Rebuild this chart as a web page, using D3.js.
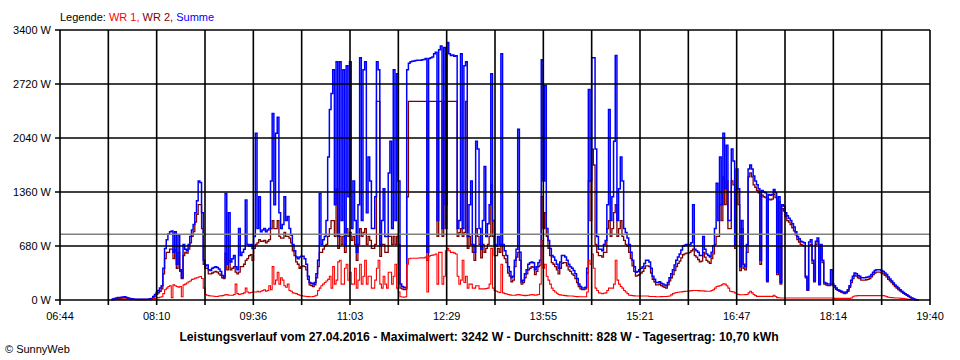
<!DOCTYPE html>
<html><head><meta charset="utf-8">
<script src="https://cdn.jsdelivr.net/npm/d3@7"></script>
<style>
body{margin:0;background:#fff}
svg{display:block}
text{font-family:"Liberation Sans",Arial,sans-serif;font-size:11px}
</style>
</head><body><svg id="c" width="960" height="360"></svg>
<script>
// ---- data ----
const axisStartMin = 404;   // 06:44
const axisEndMin = 1180;    // 19:40
const sampleStartMin = 450; // 07:30
const sampleStepMin = 1.5;
const xTickLabels = ["06:44","08:10","09:36","11:03","12:29","13:55","15:21","16:47","18:14","19:40"];
const yTickValues = [0,680,1360,2040,2720,3400];
const yTickLabels = ["0 W","680 W","1360 W","2040 W","2720 W","3400 W"];
const averageW = 828;
const legendParts = [["Legende: ","#000000"],["WR 1, ","#ff0000"],["WR 2, ","#800000"],["Summe","#0000ff"]];
const titleText = "Leistungsverlauf vom 27.04.2016 - Maximalwert: 3242 W - Durchschnitt: 828 W - Tagesertrag: 10,70 kWh";
const creditText = "\u00a9 SunnyWeb";

const summe = [
5,12,20,25,30,32,35,38,40,32,25,20,15,12,10,10,10,9,8,8,
8,9,10,15,20,45,70,95,120,150,180,400,650,760,830,860,870,600,860,450,
820,380,280,700,640,620,700,800,880,950,1100,1250,1500,1480,1100,500,430,440,380,370,
400,410,420,410,390,360,310,290,1340,450,1100,480,520,560,420,380,900,560,600,640,
1260,700,680,700,650,800,2100,900,1300,860,880,900,860,880,900,1500,2350,1200,2100,2300,
1100,900,950,1300,1000,1050,900,820,700,620,540,520,540,550,550,520,450,300,220,210,
200,220,330,500,1340,700,760,800,1000,1800,2400,2600,2900,1200,3000,800,3000,1000,2900,700,
2950,1300,3000,900,1500,1000,600,1200,3050,1000,2900,3000,1100,1800,1500,900,900,1300,3000,2900,
700,1000,1400,800,800,1600,2000,900,2900,1000,2850,1500,200,170,160,150,2900,2980,3000,3005,
3010,3015,3020,3020,3020,3025,3030,3040,600,3040,3050,3060,3100,3120,1000,3150,3200,900,3180,1200,
3242,3100,3080,3085,3070,3075,900,1000,3100,900,2950,3000,800,1200,1500,700,600,2000,1900,900,
640,1000,1680,800,960,1200,2850,1000,700,680,800,700,3100,700,620,560,420,360,280,300,
500,640,2150,600,230,250,330,380,450,470,480,470,380,420,470,500,3024,1500,2700,900,
750,650,560,540,500,450,400,480,560,560,540,500,450,420,400,370,330,270,200,170,
150,150,160,400,2650,1500,3050,3050,1900,800,640,640,620,700,750,1200,2400,1000,1300,2000,
3080,1000,1400,1800,1500,900,850,780,700,600,500,420,350,360,380,400,420,460,500,500,
480,400,300,260,220,220,230,210,200,190,180,220,280,330,380,440,500,540,580,630,
680,690,700,700,700,720,1200,640,620,600,560,560,800,640,580,560,540,600,680,900,
1470,1000,1800,1200,2100,1400,1950,1000,1000,1900,1750,700,1650,1400,420,1000,450,420,700,1650,
1700,1650,1560,1500,1450,1400,500,1380,1360,1350,250,1330,1320,1330,1390,1350,350,1300,220,1200,
1180,1100,1060,1030,1000,960,920,860,800,770,740,730,720,300,130,730,760,500,250,740,
780,200,700,500,220,210,200,200,380,200,180,150,130,120,110,100,90,100,130,180,
250,300,340,330,310,300,280,280,280,285,290,300,320,350,370,380,380,380,370,360,
340,320,290,265,240,215,190,170,150,130,110,95,80,65,50,35,25,15,5,2,
0
];
const wr2 = [
3,8,15,18,20,22,25,28,30,25,20,15,10,9,8,7,6,6,6,6,
6,7,8,12,15,35,50,70,90,110,140,330,520,600,600,640,640,520,630,400,
600,360,270,560,600,590,640,720,800,860,980,1080,1200,1200,900,450,400,400,330,330,
340,350,360,350,330,310,280,270,590,380,500,380,400,420,350,330,350,420,420,450,
500,520,560,570,500,650,700,720,760,740,740,750,720,740,760,900,1000,900,900,1000,
800,780,780,850,800,800,780,720,620,560,480,450,400,420,430,420,380,260,190,180,
170,190,280,420,600,600,640,680,700,800,900,1000,1000,800,1400,650,800,700,800,600,
900,800,850,750,800,700,500,700,900,800,850,900,700,800,750,650,650,700,2500,2500,
550,700,700,600,600,800,800,700,800,700,800,700,150,140,130,130,1300,2500,2500,2500,
2500,2500,2500,2500,2500,2500,2500,2500,500,2500,2500,2500,2500,2500,800,2500,2500,800,2500,900,
2500,2500,2500,2500,2500,2500,800,850,900,800,850,2500,650,800,700,600,500,900,800,700,
530,700,600,650,700,800,1450,800,560,560,650,600,700,560,520,470,340,300,230,250,
420,540,600,500,200,220,280,330,380,400,420,410,320,360,420,440,1300,900,1100,800,
650,560,470,450,420,380,330,400,460,470,470,430,380,360,330,310,270,220,170,140,
130,130,140,340,1500,1000,1900,1700,700,600,560,560,540,600,600,900,1000,800,900,1100,
1200,800,900,1000,800,750,700,680,600,520,430,360,300,310,320,340,360,400,430,430,
420,340,260,230,190,190,200,180,170,160,150,190,240,280,320,370,420,460,490,530,
570,580,590,590,600,620,640,560,540,510,480,490,600,540,500,480,460,520,580,700,
800,800,1200,1000,1550,1200,1500,900,900,1500,1450,650,1400,1200,370,900,400,380,600,1550,
1600,1550,1450,1420,1380,1350,450,1320,1300,1290,230,1270,1260,1270,1330,1290,320,1240,200,1150,
1120,1050,1000,980,950,910,870,820,760,730,700,690,680,280,120,690,700,460,230,700,
740,190,650,470,200,190,180,180,200,180,160,135,120,110,100,90,80,90,110,160,
220,270,310,300,280,270,250,250,250,255,260,270,290,320,340,350,350,350,340,330,
310,290,260,240,220,195,170,150,130,115,100,85,70,57,45,32,20,12,5,2,
0
];
const wr1 = [
2,3,5,6,8,9,10,11,12,10,8,6,5,4,3,3,3,3,3,3,
3,3,3,5,10,15,20,25,30,35,40,80,130,150,170,180,30,190,180,170,
160,170,40,190,200,215,230,240,260,265,275,280,290,295,270,150,70,60,55,50,
50,48,45,45,50,52,55,60,70,65,60,60,60,70,200,80,70,75,80,90,
150,100,90,95,100,100,100,110,100,110,120,130,110,120,180,130,420,200,250,350,
200,280,250,180,160,200,120,110,90,85,80,70,60,55,50,48,45,42,40,40,
45,50,60,120,150,180,200,220,240,260,300,150,420,200,250,480,500,200,200,400,
450,250,350,200,200,400,150,250,450,200,300,500,200,300,300,150,150,250,400,500,
200,150,300,200,150,350,350,200,300,450,150,100,40,38,35,40,450,520,525,525,
525,525,525,528,530,530,530,540,100,550,560,565,570,580,200,600,600,200,300,620,
650,620,600,600,590,580,300,200,250,500,220,300,150,200,200,150,150,180,180,140,
140,140,140,145,150,200,650,150,120,110,100,95,450,90,80,75,70,65,60,60,
60,65,70,65,60,58,55,58,60,65,70,65,60,65,70,200,750,400,450,300,
250,200,150,120,100,85,70,65,60,58,55,52,50,50,50,48,45,42,40,40,
40,40,40,100,500,450,580,400,150,120,90,85,80,85,90,120,150,150,150,200,
500,250,200,170,150,120,100,80,60,58,55,52,50,50,50,50,50,50,50,50,
45,45,45,45,40,40,40,42,45,45,45,48,50,65,80,88,95,98,100,102,
105,108,110,112,115,118,120,120,120,118,115,115,115,112,110,110,110,120,130,150,
170,175,180,190,205,200,180,150,110,105,100,90,75,70,67,67,67,68,70,90,
110,90,70,55,46,46,46,46,46,46,46,46,46,46,60,45,30,28,25,25,
25,25,25,25,25,25,25,25,25,25,25,25,25,25,25,25,25,25,25,25,
25,25,25,25,25,25,25,25,25,25,20,20,20,20,20,20,20,20,20,20,
25,40,50,52,55,55,55,55,55,55,55,55,55,55,55,55,55,55,55,55,
50,42,35,32,30,28,25,25,25,22,20,18,15,12,10,8,5,4,2,1,
0
];

// ---- chart ----
const svg = d3.select("#c");
const M = {left:60, right:930, top:30, bottom:300};
const x = d3.scaleLinear().domain([axisStartMin, axisEndMin]).range([M.left, M.right]);
const y = d3.scaleLinear().domain([0, 3400]).range([M.bottom, M.top]);

// legend
const leg = svg.append("text").attr("x", 60).attr("y", 20.5);
legendParts.forEach(([t,c]) => leg.append("tspan").attr("fill", c).text(t));

// series (WR 2 underneath, Summe over it, WR 1 on top)
const line = d3.line()
  .x((d,i) => x(sampleStartMin + i*sampleStepMin))
  .y(d => y(d))
  .curve(d3.curveStep);
const series = [[wr2,"#800000",1.3],[summe,"#0000ff",1.5],[wr1,"#ff0000",1.1]];
series.forEach(([data,color,w]) => {
  svg.append("path").datum(data).attr("fill","none").attr("stroke",color)
    .attr("stroke-width",w).attr("stroke-linejoin","miter").attr("d", line);
});

// average line
svg.append("line").attr("x1",M.left).attr("x2",M.right)
  .attr("y1",y(averageW)).attr("y2",y(averageW))
  .attr("stroke","#808080").attr("stroke-width",1.5);

// grid
const nV = 18;
const vTicks = d3.range(nV+1).map(k => axisStartMin + k*(axisEndMin-axisStartMin)/nV);
const g = svg.append("g").attr("stroke","#000").attr("stroke-width",1.6);
vTicks.forEach(t => {
  g.append("line").attr("x1",x(t)).attr("x2",x(t)).attr("y1",M.top).attr("y2",M.bottom+5);
});
yTickValues.forEach(v => {
  g.append("line").attr("x1",M.left-5).attr("x2",M.right).attr("y1",y(v)).attr("y2",y(v));
});

// y labels
yTickValues.forEach((v,i) => {
  svg.append("text").attr("x",51).attr("y",y(v)+4).attr("text-anchor","end").text(yTickLabels[i]);
});
// x labels
xTickLabels.forEach((lab,k) => {
  svg.append("text").attr("x",x(vTicks[k*2])).attr("y",320).attr("text-anchor","middle").text(lab);
});

// title and credit
svg.append("text").attr("x",479).attr("y",341).attr("text-anchor","middle")
  .attr("font-weight","bold").style("font-size","12.2px").text(titleText);
svg.append("text").attr("x",5).attr("y",353).text(creditText);
</script>
</body></html>
